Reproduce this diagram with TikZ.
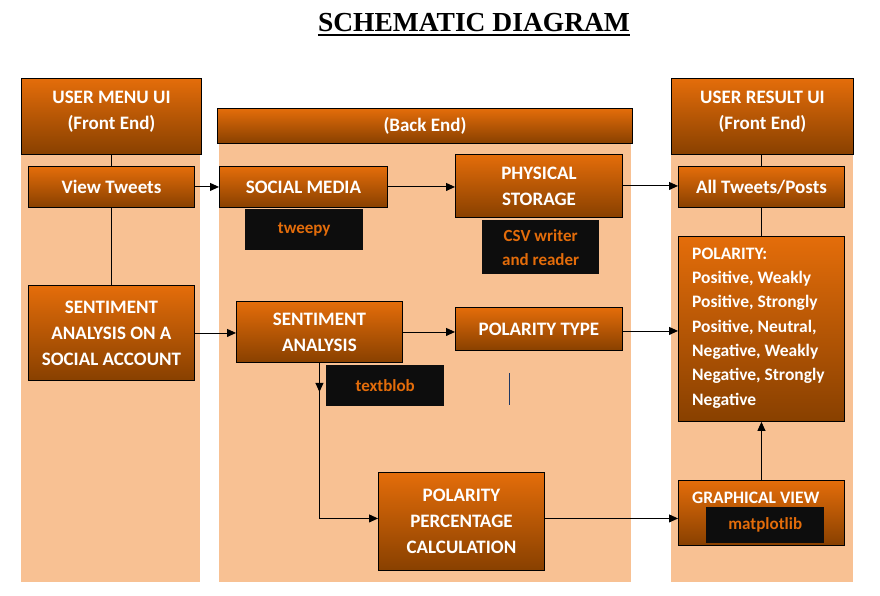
\documentclass[tikz,border=0pt]{standalone}
\usepackage{fontspec}
\setmainfont{Carlito}
\newfontfamily\titlefont{Liberation Serif}
\usetikzlibrary{arrows.meta}
\definecolor{panel}{RGB}{248,193,147}
\definecolor{boxtop}{RGB}{228,109,10}
\definecolor{boxbot}{RGB}{136,64,0}
\definecolor{libbg}{RGB}{13,13,13}
\definecolor{libtxt}{RGB}{227,108,10}
\definecolor{strayline}{RGB}{31,56,100}

\begin{document}
\begin{tikzpicture}[x=1pt,y=-1pt,
  stagebox/.style={draw=black, line width=0.9pt, top color=boxtop, bottom color=boxbot,
    text=white, font=\bfseries\fontsize{19}{26}\selectfont, align=center,
    inner sep=0pt, anchor=north west},
  headtext/.style={text=white, font=\bfseries\fontsize{19}{26}\selectfont, align=center, inner sep=0pt},
  smalltext/.style={text=white, font=\bfseries\fontsize{17.5}{24.3}\selectfont, inner sep=0pt, anchor=west, align=left},
  libbox/.style={fill=libbg, draw=none, text=libtxt, font=\bfseries\fontsize{17}{24}\selectfont,
    align=center, inner sep=0pt, anchor=north west},
  link/.style={line width=0.9pt, draw=black},
  arr/.style={link, -{Triangle[length=9pt,width=8pt]}},
]
\useasboundingbox (0,0) rectangle (880,596);

% title
\node[anchor=base, inner sep=0pt, font=\titlefont\bfseries\fontsize{27.5}{30}\selectfont] (title) at (474,32) {SCHEMATIC DIAGRAM};
\draw[line width=2.2pt] ([yshift=-3pt]title.base west) -- ([yshift=-3pt]title.base east);

% column panels
\fill[panel] (21,154) rectangle (200,582);
\fill[panel] (219,143) rectangle (631,582);
\fill[panel] (671,154) rectangle (853,582);

% front end (menu)
\node[stagebox, minimum width=180pt, minimum height=76pt] (umu) at (21,78) {};
\node[headtext] (umut) at ([yshift=5pt]umu.center) {USER MENU UI\\(Front End)};
\node[stagebox, minimum width=166pt, minimum height=41pt] (vt) at (28,166) {View Tweets};
\node[stagebox, minimum width=166pt, minimum height=95pt] (sasa) at (28,285) {SENTIMENT\\ANALYSIS ON A\\SOCIAL ACCOUNT};

% back end
\node[stagebox, minimum width=415pt, minimum height=35pt] (be) at (217,108) {(Back End)};
\node[stagebox, minimum width=168pt, minimum height=41pt] (sm) at (219,166) {SOCIAL MEDIA};
\node[libbox, minimum width=118pt, minimum height=41pt] (tw) at (245,209) {tweepy};
\node[stagebox, minimum width=167pt, minimum height=63pt] (ps) at (455,154) {PHYSICAL\\STORAGE};
\node[libbox, minimum width=117pt, minimum height=54pt] (csv) at (482,220) {CSV writer\\and reader};
\node[stagebox, minimum width=166pt, minimum height=61pt] (sa) at (236,301) {SENTIMENT\\ANALYSIS};
\node[stagebox, minimum width=167pt, minimum height=43pt] (pt) at (455,307) {POLARITY TYPE};
\node[libbox, minimum width=118pt, minimum height=41pt] (tb) at (326,365) {textblob};
\node[stagebox, minimum width=166pt, minimum height=98pt] (ppc) at (378,472) {POLARITY\\PERCENTAGE\\CALCULATION};
\coordinate (s1) at (509,373);
\coordinate (s2) at (509,405);
\draw[strayline, line width=0.9pt] (s1) -- (s2);

% front end (results)
\node[stagebox, minimum width=182pt, minimum height=76pt] (urh) at (671,78) {};
\node[headtext] (urht) at ([yshift=5pt]urh.center) {USER RESULT UI\\(Front End)};
\node[stagebox, minimum width=166pt, minimum height=41pt] (at) at (678,166) {All Tweets/Posts};
\node[stagebox, minimum width=166pt, minimum height=185pt] (pol) at (678,236) {};
\node[smalltext] (polt) at (692,328)
  {POLARITY:\\Positive, Weakly\\Positive, Strongly\\Positive, Neutral,\\Negative, Weakly\\Negative, Strongly\\Negative};
\node[stagebox, minimum width=166pt, minimum height=65pt] (gv) at (678,480) {};
\node[smalltext] (gvt) at (692,498) {GRAPHICAL VIEW};
\node[libbox, minimum width=118pt, minimum height=36pt] (mpl) at (706,507) {matplotlib};

% plain links
\draw[link] (umu.south) -- (vt.north);
\draw[link] (vt.south) -- (sasa.north);
\draw[link] (urh.south -| at.north) -- (at.north);
\draw[link] (at.south) -- (pol.north);

% arrows
\draw[arr] (vt.east) -- (sm.west);
\draw[arr] (sm.east) -- (sm.east -| ps.west);
\draw[arr] (ps.east) -- (ps.east -| at.west);
\draw[arr] (sasa.east) -- (sasa.east -| sa.west);
\draw[arr] (sa.east) -- (sa.east -| pt.west);
\draw[arr] ([yshift=-2pt]pt.east) -- ([yshift=-2pt]pt.east -| pol.west);
\draw[arr] (sa.south) -- ([yshift=-29pt]sa.south);
\draw[arr] (sa.south) |- ([yshift=3pt]ppc.west);
\draw[arr] ([yshift=3pt]ppc.east) -- ([yshift=3pt]ppc.east -| gv.west);
\draw[arr] (gv.north) -- (pol.south);
\end{tikzpicture}
\end{document}
